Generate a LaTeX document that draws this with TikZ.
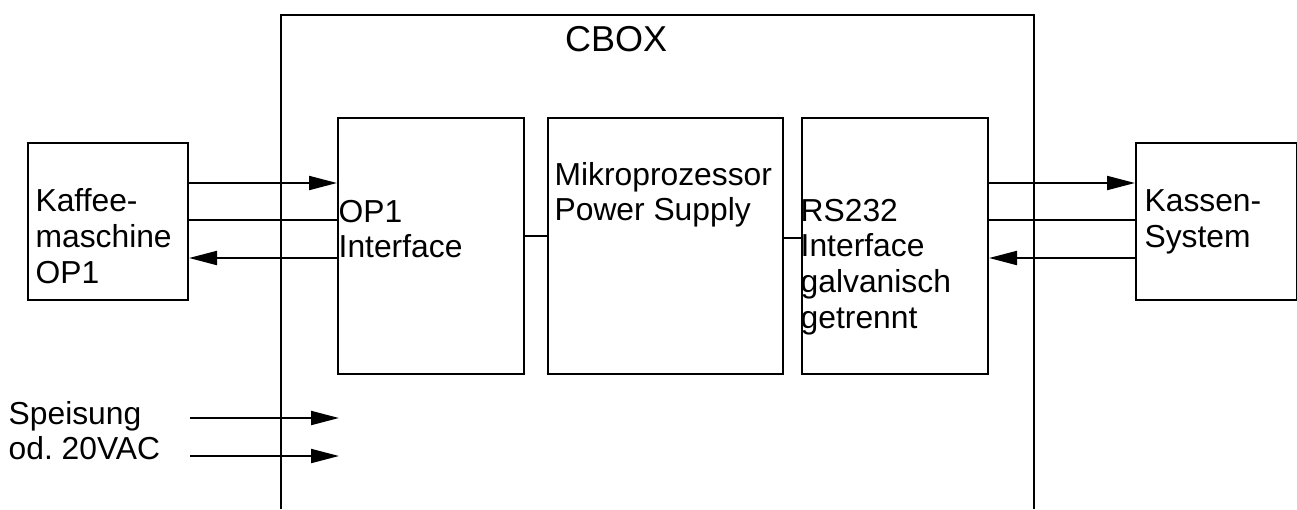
\documentclass[tikz,border=0pt]{standalone}
\usepackage{fontspec}
\setmainfont{Liberation Sans}
\usetikzlibrary{arrows.meta}
\begin{document}
\begin{tikzpicture}[x=1pt,y=-1pt,
  box/.style={draw,line width=2pt,inner sep=0,anchor=north west},
  frame/.style={line width=2.6pt},
  wire/.style={line width=2pt},
  arr/.style={wire,-{Triangle[length=28pt,width=14pt]}},
  txt/.style={inner sep=0,anchor=base west,font=\fontsize{31.8}{35.7}\selectfont},
  ttl/.style={inner sep=0,anchor=base west,font=\fontsize{36}{40}\selectfont}]
\useasboundingbox (0,0) rectangle (1297,509);
% CBOX frame (open at the bottom)
\coordinate (fbl) at (281,509);
\coordinate (ftl) at (281,15);
\coordinate (ftr) at (1034,15);
\coordinate (fbr) at (1034,509);
\draw[frame] (fbl) -- (ftl) -- (ftr) -- (fbr);
\node[ttl] (cbox) at (565,51.7) {CBOX};
% boxes
\node[box,minimum width=160pt,minimum height=157pt] (kaffee) at (27,142) {};
\node[box,minimum width=186pt,minimum height=256pt] (op1) at (337,117) {};
\node[box,minimum width=235pt,minimum height=256pt] (mikro) at (546.5,117) {};
\node[box,minimum width=186pt,minimum height=256pt] (rs) at (801,117) {};
\node[box,minimum width=161pt,minimum height=157pt] (kasse) at (1135,142) {};
% texts
\node[txt] (tkaffee) at (35.4,211.7) {\vtop{\hbox{Kaffee-}\hbox{maschine}\hbox{OP1}}};
\node[txt] (top1) at (338.5,222) {\vtop{\hbox{OP1}\hbox{Interface}}};
\node[txt] (tmikro) at (554.4,185) {\vtop{\hbox{Mikroprozessor}\hbox{Power Supply}}};
\node[txt] (trs) at (800.5,221) {\vtop{\hbox{RS232}\hbox{Interface}\hbox{galvanisch}\hbox{getrennt}}};
\node[txt] (tkasse) at (1144.4,211.7) {\vtop{\hbox{Kassen-}\hbox{System}}};
\node[txt] (tspeis) at (8.5,424) {\vtop{\hbox{Speisung}\hbox{od.\ 20VAC}}};
% left connections
\draw[arr] (kaffee.east |- 0,183) -- (op1.west |- 0,183);
\draw[wire] (kaffee.east |- 0,220) -- (op1.west |- 0,220);
\draw[arr] (op1.west |- 0,258) -- (kaffee.east |- 0,258);
% right connections
\draw[arr] (rs.east |- 0,183) -- (kasse.west |- 0,183);
\draw[wire] (rs.east |- 0,220) -- (kasse.west |- 0,220);
\draw[arr] (kasse.west |- 0,258) -- (rs.east |- 0,258);
% internal
\draw[wire] (op1.east |- 0,235.5) -- (mikro.west |- 0,235.5);
\draw[wire] (mikro.east |- 0,238) -- (rs.west |- 0,238);
% supply
\coordinate (s1a) at (190,418);
\coordinate (s1b) at (339,418);
\coordinate (s2a) at (190,456);
\coordinate (s2b) at (339,456);
\draw[arr] (s1a) -- (s1b);
\draw[arr] (s2a) -- (s2b);
\end{tikzpicture}
\end{document}
